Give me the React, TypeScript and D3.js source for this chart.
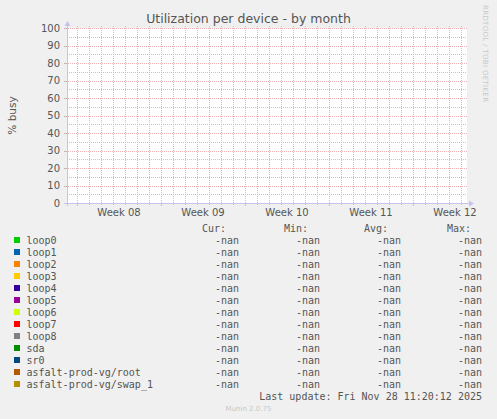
import React from "react";
import * as d3 from "d3";

// ---- data ----
const chartTitle = "Utilization per device - by month";
const yAxisLabel = "% busy";
const yTicks = [0, 10, 20, 30, 40, 50, 60, 70, 80, 90, 100];
const yMinorTicks = [5, 15, 25, 35, 45, 55, 65, 75, 85, 95];
const weekLabels = ["Week 08", "Week 09", "Week 10", "Week 11", "Week 12"];
const weekStarts = ["2025-02-17", "2025-02-24", "2025-03-03", "2025-03-10", "2025-03-17"];
const timeStart = "2025-02-16T04:00:00Z";
const timeEnd = "2025-03-21T12:00:00Z";

const seriesNames = [
  "loop0", "loop1", "loop2", "loop3", "loop4", "loop5", "loop6", "loop7", "loop8",
  "sda", "sr0", "asfalt-prod-vg/root", "asfalt-prod-vg/swap_1",
];
const seriesColors = [
  "#00cc00", "#0066b3", "#ff8000", "#ffcc00", "#330099", "#990099", "#ccff00", "#ff0000", "#808080",
  "#008f00", "#00487d", "#b35a00", "#b38f00",
];
// no valid samples in the period: every series is empty
const seriesPoints: [string, number][][] = [[], [], [], [], [], [], [], [], [], [], [], [], []];
const curValues = [NaN, NaN, NaN, NaN, NaN, NaN, NaN, NaN, NaN, NaN, NaN, NaN, NaN];
const minValues = [NaN, NaN, NaN, NaN, NaN, NaN, NaN, NaN, NaN, NaN, NaN, NaN, NaN];
const avgValues = [NaN, NaN, NaN, NaN, NaN, NaN, NaN, NaN, NaN, NaN, NaN, NaN, NaN];
const maxValues = [NaN, NaN, NaN, NaN, NaN, NaN, NaN, NaN, NaN, NaN, NaN, NaN, NaN];
const statHeaders = ["Cur:", "Min:", "Avg:", "Max:"];
const lastUpdate = "Last update: Fri Nov 28 11:20:12 2025";
const watermark = "RRDTOOL / TOBI OETIKER";
const footer = "Munin 2.0.75";

// ---- layout ----
const W = 497;
const H = 419;
const plot = { left: 67, right: 467, top: 28, bottom: 203 };
const sans = "'DejaVu Sans', sans-serif";
const mono = "'DejaVu Sans Mono', monospace";
const textColor = "#555555";
const minorGrid = "#c4c4c4";
const majorGrid = "#eeb2b2";
const axisColor = "#c4c4ee";

const fmt = (v: number) => (isNaN(v) ? "-nan" : d3.format(".2f")(v));

export default function App() {
  const x = d3
    .scaleUtc()
    .domain([new Date(timeStart), new Date(timeEnd)])
    .range([plot.left, plot.right]);
  const y = d3.scaleLinear().domain([0, 100]).range([plot.bottom, plot.top]);

  const days = d3.utcDay.range(d3.utcDay.ceil(x.domain()[0]), x.domain()[1]);
  const weeks = weekStarts.map((s) => new Date(s + "T00:00:00Z"));

  const line = d3
    .line<[string, number]>()
    .defined((d) => !isNaN(d[1]))
    .x((d) => x(new Date(d[0])))
    .y((d) => y(d[1]));

  const statCols = [
    { values: curValues, headEnd: 226, valEnd: 239 },
    { values: minValues, headEnd: 308, valEnd: 320 },
    { values: avgValues, headEnd: 388, valEnd: 401 },
    { values: maxValues, headEnd: 471, valEnd: 482 },
  ];
  const headerBase = 231.5;
  const rowStep = 12;
  const rowY = (i: number) => headerBase + rowStep * (i + 1);
  const px = (v: number) => Math.round(v) + 0.5;

  return (
    <svg
      width={W}
      height={H}
      style={{ position: "absolute", left: 0, top: 0, display: "block" }}
      xmlns="http://www.w3.org/2000/svg"
    >
      <rect x={0} y={0} width={W} height={H} fill="#f0f0f0" />
      <rect
        x={plot.left}
        y={plot.top}
        width={plot.right - plot.left}
        height={plot.bottom - plot.top}
        fill="#ffffff"
      />

      {/* minor grid */}
      <g stroke={minorGrid} strokeWidth={1} strokeDasharray="1,1" shapeRendering="crispEdges">
        {yMinorTicks.map((t) => (
          <line key={"ym" + t} x1={plot.left} x2={plot.right} y1={px(y(t))} y2={px(y(t))} />
        ))}
        {days.map((d, i) => (
          <line key={"xm" + i} x1={px(x(d))} x2={px(x(d))} y1={plot.top - 2} y2={plot.bottom + 2} />
        ))}
      </g>

      {/* major grid */}
      <g stroke={majorGrid} strokeWidth={1} strokeDasharray="1,1" shapeRendering="crispEdges">
        {yTicks.slice(1).map((t) => (
          <line key={"yM" + t} x1={plot.left - 3} x2={plot.right} y1={px(y(t))} y2={px(y(t))} />
        ))}
        {weeks.map((d, i) => (
          <line key={"xM" + i} x1={px(x(d))} x2={px(x(d))} y1={plot.top - 2} y2={plot.bottom + 3} />
        ))}
      </g>
      <g stroke={majorGrid} strokeWidth={1} shapeRendering="crispEdges">
        {weeks.map((d, i) => (
          <line key={"xT" + i} x1={px(x(d))} x2={px(x(d))} y1={plot.bottom} y2={plot.bottom + 3} />
        ))}
        {yTicks.map((t) => (
          <line key={"yT" + t} x1={plot.left - 3} x2={plot.left} y1={px(y(t))} y2={px(y(t))} stroke="#bbbbbb" />
        ))}
      </g>

      {/* series (no valid samples) */}
      {seriesPoints.map((pts, i) => (
        <path key={"s" + i} d={line(pts) || ""} fill="none" stroke={seriesColors[i]} strokeWidth={1} />
      ))}

      {/* axes */}
      <g stroke={axisColor} strokeWidth={1} shapeRendering="crispEdges">
        <line x1={plot.left + 0.5} x2={plot.left + 0.5} y1={plot.bottom + 3} y2={plot.top - 4} />
        <line x1={plot.left - 3} x2={plot.right + 3} y1={plot.bottom + 0.5} y2={plot.bottom + 0.5} />
      </g>
      <path
        d={`M${plot.left - 2.5},${plot.top - 2} L${plot.left + 3.5},${plot.top - 2} L${plot.left + 0.5},${plot.top - 7} Z`}
        fill={axisColor}
      />
      <path
        d={`M${plot.right + 2},${plot.bottom - 2.5} L${plot.right + 2},${plot.bottom + 3.5} L${plot.right + 7},${plot.bottom + 0.5} Z`}
        fill={axisColor}
      />

      {/* y tick labels */}
      <g fontFamily={sans} fontSize={10} fill={textColor} textAnchor="end">
        {yTicks.map((t) => (
          <text key={"yl" + t} x={60} y={y(t) + 3.6}>
            {t}
          </text>
        ))}
      </g>

      {/* x labels, centred in each week */}
      <g fontFamily={sans} fontSize={10} fill={textColor} textAnchor="middle">
        {weekLabels.map((lab, i) => (
          <text key={lab} x={x(d3.utcHour.offset(weeks[i], 84))} y={216}>
            {lab}
          </text>
        ))}
      </g>

      {/* title */}
      <text x={248.5} y={23} textAnchor="middle" fontFamily={sans} fontSize={12.5} fill={textColor}>
        {chartTitle}
      </text>

      {/* y axis label */}
      <text
        transform={`translate(15.5,${(plot.top + plot.bottom) / 2}) rotate(-90)`}
        textAnchor="middle"
        fontFamily={sans}
        fontSize={10.5}
        fill={textColor}
      >
        {yAxisLabel}
      </text>

      {/* watermark */}
      <text
        transform="translate(483,5) rotate(90)"
        fontFamily={sans}
        fontSize={7}
        fill="#c8c8c8"
        textLength={97}
        lengthAdjust="spacing"
      >
        {watermark}
      </text>

      {/* legend */}
      <g fontFamily={mono} fontSize={10} fill={textColor}>
        {statCols.map((c, j) => (
          <text key={"h" + j} x={c.headEnd} y={headerBase} textAnchor="end">
            {statHeaders[j]}
          </text>
        ))}
        {seriesNames.map((name, i) => (
          <g key={name}>
            <rect x={14} y={rowY(i) - 6.5} width={6} height={6} fill={seriesColors[i]} />
            <text x={26.5} y={rowY(i)}>
              {name}
            </text>
            {statCols.map((c, j) => (
              <text key={j} x={c.valEnd} y={rowY(i)} textAnchor="end">
                {fmt(c.values[i])}
              </text>
            ))}
          </g>
        ))}
        <text x={482} y={rowY(seriesNames.length)} textAnchor="end">
          {lastUpdate}
        </text>
      </g>

      <text x={248.5} y={410.5} textAnchor="middle" fontFamily={sans} fontSize={7} fill="#c8c8c8">
        {footer}
      </text>
    </svg>
  );
}
